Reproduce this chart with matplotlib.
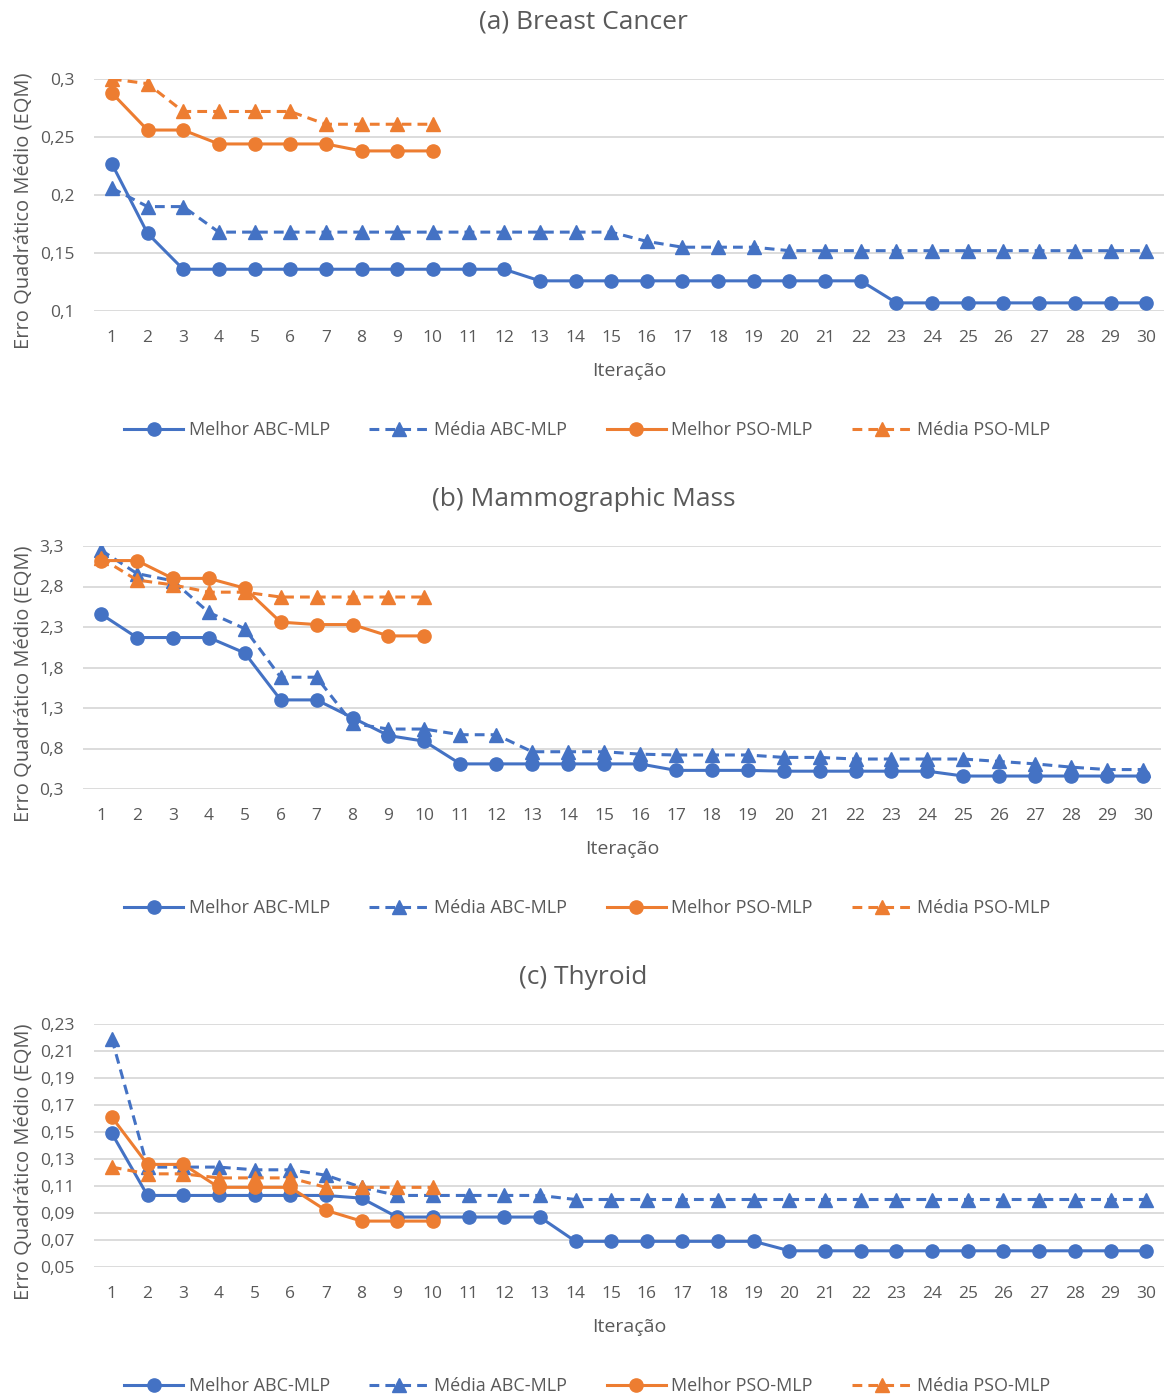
import matplotlib
matplotlib.use("Agg")
import matplotlib.pyplot as plt

plt.rcParams['font.family'] = ['Open Sans', 'DejaVu Sans']

# iterations
it_abc = list(range(1, 31))
it_pso = list(range(1, 11))

# (a) Breast Cancer
a_best_abc = [0.227, 0.167, 0.136, 0.136, 0.136, 0.136, 0.136, 0.136, 0.136, 0.136,
              0.136, 0.136, 0.126, 0.126, 0.126, 0.126, 0.126, 0.126, 0.126, 0.126,
              0.126, 0.126, 0.107, 0.107, 0.107, 0.107, 0.107, 0.107, 0.107, 0.107]
a_mean_abc = [0.206, 0.190, 0.190, 0.168, 0.168, 0.168, 0.168, 0.168, 0.168, 0.168,
              0.168, 0.168, 0.168, 0.168, 0.168, 0.160, 0.155, 0.155, 0.155, 0.152,
              0.152, 0.152, 0.152, 0.152, 0.152, 0.152, 0.152, 0.152, 0.152, 0.152]
a_best_pso = [0.288, 0.256, 0.256, 0.244, 0.244, 0.244, 0.244, 0.238, 0.238, 0.238]
a_mean_pso = [0.300, 0.296, 0.272, 0.272, 0.272, 0.272, 0.261, 0.261, 0.261, 0.261]

# (b) Mammographic Mass
b_best_abc = [2.46, 2.17, 2.17, 2.17, 1.98, 1.40, 1.40, 1.18, 0.96, 0.89,
              0.61, 0.61, 0.61, 0.61, 0.61, 0.61, 0.53, 0.53, 0.53, 0.52,
              0.52, 0.52, 0.52, 0.52, 0.46, 0.46, 0.46, 0.46, 0.46, 0.46]
b_mean_abc = [3.25, 2.96, 2.87, 2.48, 2.28, 1.68, 1.68, 1.11, 1.04, 1.04,
              0.97, 0.97, 0.76, 0.76, 0.76, 0.73, 0.72, 0.72, 0.72, 0.69,
              0.69, 0.67, 0.67, 0.67, 0.67, 0.64, 0.61, 0.57, 0.54, 0.54]
b_best_pso = [3.12, 3.12, 2.90, 2.90, 2.78, 2.36, 2.33, 2.33, 2.19, 2.19]
b_mean_pso = [3.15, 2.88, 2.82, 2.73, 2.73, 2.67, 2.67, 2.67, 2.67, 2.67]

# (c) Thyroid
c_best_abc = [0.149, 0.103, 0.103, 0.103, 0.103, 0.103, 0.103, 0.101, 0.087, 0.087,
              0.087, 0.087, 0.087, 0.069, 0.069, 0.069, 0.069, 0.069, 0.069, 0.062,
              0.062, 0.062, 0.062, 0.062, 0.062, 0.062, 0.062, 0.062, 0.062, 0.062]
c_mean_abc = [0.219, 0.124, 0.124, 0.124, 0.122, 0.122, 0.118, 0.109, 0.103, 0.103,
              0.103, 0.103, 0.103, 0.100, 0.100, 0.100, 0.100, 0.100, 0.100, 0.100,
              0.100, 0.100, 0.100, 0.100, 0.100, 0.100, 0.100, 0.100, 0.100, 0.100]
c_best_pso = [0.161, 0.126, 0.126, 0.109, 0.109, 0.109, 0.092, 0.084, 0.084, 0.084]
c_mean_pso = [0.124, 0.119, 0.119, 0.116, 0.116, 0.116, 0.109, 0.109, 0.109, 0.109]

titles = ["(a) Breast Cancer", "(b) Mammographic Mass", "(c) Thyroid"]
ticks_a = [0.1, 0.15, 0.2, 0.25, 0.3]
ticks_b = [0.3, 0.8, 1.3, 1.8, 2.3, 2.8, 3.3]
ticks_c = [0.05, 0.07, 0.09, 0.11, 0.13, 0.15, 0.17, 0.19, 0.21, 0.23]

BLUE = "#4472C4"
ORANGE = "#ED7D31"
GRID = "#D9D9D9"
TXT = "#595959"

fig = plt.figure(figsize=(11.67, 13.96), dpi=100)

W, H = 1167.0, 1396.0
# axes boxes in pixels: left, top, right, bottom
boxes = [(94, 79, 1164, 311), (83, 546, 1161, 789), (94, 1024, 1164, 1267)]
title_y = [22, 500, 978]
datasets = [
    (a_best_abc, a_mean_abc, a_best_pso, a_mean_pso, ticks_a),
    (b_best_abc, b_mean_abc, b_best_pso, b_mean_pso, ticks_b),
    (c_best_abc, c_mean_abc, c_best_pso, c_mean_pso, ticks_c),
]

for k in range(3):
    l, t, r, b = boxes[k]
    ax = fig.add_axes([l / W, 1 - b / H, (r - l) / W, (b - t) / H])
    best_abc, mean_abc, best_pso, mean_pso, yt = datasets[k]

    ax.plot(it_abc, best_abc, color=BLUE, lw=2.2, marker='o', ms=9.5,
            label="Melhor ABC-MLP", zorder=3)
    ax.plot(it_abc, mean_abc, color=BLUE, lw=2.2, marker='^', ms=9.5,
            dashes=(3.2, 2.0), label="Média ABC-MLP", zorder=4)
    ax.plot(it_pso, best_pso, color=ORANGE, lw=2.2, marker='o', ms=9.5,
            label="Melhor PSO-MLP", zorder=5)
    ax.plot(it_pso, mean_pso, color=ORANGE, lw=2.2, marker='^', ms=9.5,
            dashes=(3.2, 2.0), label="Média PSO-MLP", zorder=6)

    ax.set_xlim(0.5, 30.5)
    ax.set_ylim(yt[0], yt[-1])
    ax.set_xticks(it_abc)
    ax.set_yticks(yt)
    ax.set_yticklabels([("%g" % v).replace(".", ",") for v in yt])
    ax.grid(axis='y', color=GRID, lw=1.3)
    ax.set_axisbelow(True)
    for s in ax.spines.values():
        s.set_visible(False)
    ax.tick_params(axis='both', length=0, labelsize=12.5, labelcolor=TXT)
    ax.tick_params(axis='x', pad=14)
    ax.tick_params(axis='y', pad=14)

    ax.set_xlabel("Iteração", fontsize=14, color=TXT, labelpad=11)
    ax.set_ylabel("Erro Quadrático Médio (EQM)", fontsize=14.5, color=TXT)
    ax.yaxis.set_label_coords((33 - l) / (r - l), (b - (t + b) / 2 - 16) / (b - t))

    fig.text(0.5, 1 - title_y[k] / H, titles[k], fontsize=19, color=TXT,
             ha='center', va='center')

    leg = ax.legend(loc='center', bbox_to_anchor=((587 - l) / (r - l), -119 / (b - t)),
                    ncol=4, frameon=False, fontsize=13, handlelength=3.3,
                    handletextpad=0.28, columnspacing=2.2)
    for txt in leg.get_texts():
        txt.set_color(TXT)

fig.savefig("out.png", dpi=100)
